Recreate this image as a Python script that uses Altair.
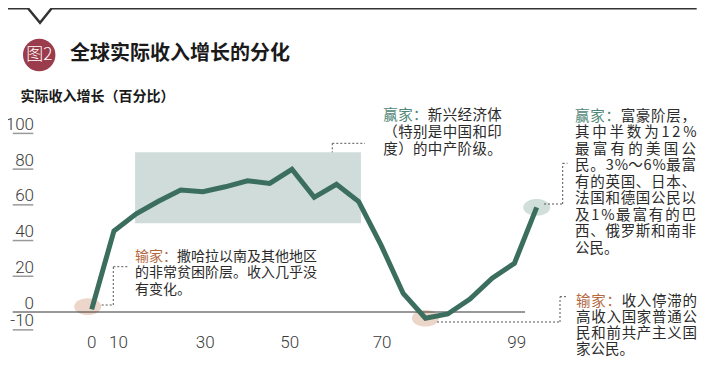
import math
import altair as alt
import pandas as pd

FONT_CJK = "Noto Sans CJK SC"
FONT_NUM = "Roboto"

# ---------------- data ----------------
pct_index = list(range(21))
income_growth = [1.5, 45.4, 55, 62, 68.3, 67.4, 70.1, 73.5, 72, 79.9, 64.2,
                 71.5, 61.8, 37.6, 10.4, -3.5, -1.1, 7.2, 18.9, 27.3, 58.6]
x_tick_pos = [0, 1.2, 5.1, 8.9, 13.05, 19.1]
x_tick_labels = ["0", "10", "30", "50", "70", "99"]
y_tick_vals = [100, 80, 60, 40, 20, 0, -10]
y_tick_labels = ["100", "80", "60", "40", "20", "0", "-10"]
band_x = [1.95, 12.1]
band_y = [49.7, 89.4]
mark_x = [-0.18, 15, 20]
mark_y = [3.0, -3.5, 58.6]
mark_colors = ["#ecd6c9", "#ecd6c9", "#d0dfda"]

title = "全球实际收入增长的分化"
badge = "图2"
subtitle = "实际收入增长（百分比）"

GREEN_T = "#4f8676"
BROWN_T = "#b4683f"
TXT = "#2b2b2b"

# annotation blocks: (x0, y0, line height, font size, width or None, lines)
blocks = [
    (135, 256.5, 16.5, 14, None, [
        [("输家：", BROWN_T), ("撒哈拉以南及其他地区", TXT)],
        [("的非常贫困阶层。收入几乎没", TXT)],
        [("有变化。", TXT)],
    ], [False, False, False]),
    (383.3, 116, 16.8, 14.5, 118.5, [
        [("赢家：", GREEN_T), ("新兴经济体", TXT)],
        [("（特别是中国和印", TXT)],
        [("度）的中产阶级。", TXT)],
    ], [True, True, True]),
    (575, 116.5, 16.5, 14.5, 121, [
        [("赢家：", GREEN_T), ("富豪阶层，", TXT)],
        [("其中半数为12%", TXT)],
        [("最富有的美国公", TXT)],
        [("民。3%～6%最富", TXT)],
        [("有的英国、日本、", TXT)],
        [("法国和德国公民以", TXT)],
        [("及1%最富有的巴", TXT)],
        [("西、俄罗斯和南非", TXT)],
        [("公民。", TXT)],
    ], [True] * 8 + [False]),
    (576, 302, 16, 14.5, 121, [
        [("输家：", BROWN_T), ("收入停滞的", TXT)],
        [("高收入国家普通公", TXT)],
        [("民和前共产主义国", TXT)],
        [("家公民。", TXT)],
    ], [True, True, True, False]),
]

# ---------------- layout helpers (page pixels -> data units) ----------------
W, H = 691, 351
X0, STEP = 91.7, 22.25
Y0, PPU = 312.0, 1.786


def xd(px):
    return (px - X0) / STEP


def yd(py):
    return (Y0 - py) / PPU


xs = alt.Scale(domain=[xd(8), xd(8 + W)], nice=False, zero=False)
ys = alt.Scale(domain=[yd(8 + H), yd(8)], nice=False, zero=False)


def XQ(f):
    return alt.X(f, type="quantitative", scale=xs, axis=None)


def YQ(f):
    return alt.Y(f, type="quantitative", scale=ys, axis=None)


def cw(c, fs):
    if c in "0123456789":
        return 0.56 * fs
    if c == "%":
        return 0.88 * fs
    if ord(c) < 128:
        return 0.5 * fs
    return fs


rows = []
for x0, y0, lh, fs, width, lines, just in blocks:
    for li, line in enumerate(lines):
        chars = [(c, col) for seg, col in line for c in seg]
        widths = [cw(c, fs) for c, _ in chars]
        gap = 0.0
        if width is not None and just[li] and len(chars) > 1:
            gap = (width - sum(widths)) / (len(chars) - 1)
        x = x0
        for (c, col), w in zip(chars, widths):
            rows.append({"ax": xd(x), "ay": yd(y0 + li * lh), "ch": c,
                         "col": col, "fs": fs})
            x += w + gap
chars_df = pd.DataFrame(rows)

# ---------------- layers ----------------
main_df = pd.DataFrame({"p": pct_index, "g": income_growth})

top_pts = [(8, 8.3), (28, 8.3), (40, 22.7), (51.7, 8.3), (696.7, 8.3)]
top_df = pd.DataFrame({"i": range(len(top_pts)),
                       "x": [xd(p[0]) for p in top_pts],
                       "y": [yd(p[1]) for p in top_pts]})
top_line = alt.Chart(top_df).mark_line(color="#333333", strokeWidth=2.5).encode(
    x=XQ("x"), y=YQ("y"), order="i:Q")

badge_df = pd.DataFrame({"x": [xd(39.2)], "y": [yd(55)], "t": [badge]})
badge_circle = alt.Chart(badge_df).mark_circle(
    color="#9b3c4c", opacity=1, size=math.pi * 18.3 ** 2).encode(x=XQ("x"), y=YQ("y"))
badge_text = alt.Chart(badge_df).mark_text(
    color="white", font=FONT_CJK, fontSize=17, fontWeight=300,
    align="center", baseline="middle").encode(x=XQ("x"), y=YQ("y"), text="t:N")

title_df = pd.DataFrame({"x": [xd(70)], "y": [yd(53.5)], "t": [title]})
title_text = alt.Chart(title_df).mark_text(
    color="#1a1a1a", font=FONT_CJK, fontSize=20, fontWeight="bold",
    align="left", baseline="middle").encode(x=XQ("x"), y=YQ("y"), text="t:N")

sub_df = pd.DataFrame({"x": [xd(20.5)], "y": [yd(96.7)], "t": [subtitle]})
sub_text = alt.Chart(sub_df).mark_text(
    color="#1a1a1a", font=FONT_CJK, fontSize=14, fontWeight="bold",
    align="left", baseline="middle").encode(x=XQ("x"), y=YQ("y"), text="t:N")

band_df = pd.DataFrame({"x1": [band_x[0]], "x2": [band_x[1]],
                        "y1": [band_y[0]], "y2": [band_y[1]]})
band = alt.Chart(band_df).mark_rect(color="#cfdcd9", opacity=1).encode(
    x=XQ("x1"), x2="x2", y=YQ("y1"), y2="y2")

ell = [(math.cos(t * math.pi / 18), 0.62 * math.sin(t * math.pi / 18)) for t in range(36)]
ell_path = "M" + " L".join(f"{a:.4f},{b:.4f}" for a, b in ell) + " Z"
hl_df = pd.DataFrame({"x": mark_x, "y": mark_y, "c": mark_colors})
highlights = alt.Chart(hl_df).mark_point(
    shape=ell_path, filled=True, size=27 ** 2, opacity=1, strokeWidth=0).encode(
    x=XQ("x"), y=YQ("y"), color=alt.Color("c:N", scale=None))

zero_df = pd.DataFrame({"x1": [xd(12.7)], "x2": [xd(525)], "y": [0]})
zero_line = alt.Chart(zero_df).mark_rule(color="#333333", strokeWidth=1.2).encode(
    x=XQ("x1"), x2="x2", y=YQ("y"))

yt_df = pd.DataFrame({"v": y_tick_vals, "lab": y_tick_labels,
                      "x1": xd(12.7), "x2": xd(33.3)})
ytick_rules = alt.Chart(yt_df).transform_filter("datum.v != 0").mark_rule(
    color="#9a9a9a", strokeWidth=1.5).encode(x=XQ("x1"), x2="x2", y=YQ("v"))
ytick_text = alt.Chart(yt_df).mark_text(
    color="#3a3a3a", font=FONT_NUM, fontSize=17, fontWeight=300,
    align="right", baseline="alphabetic", dy=-3.5).encode(
    x=alt.value(34 - 8), y=YQ("v"), text="lab:N")

xt_df = pd.DataFrame({"p": x_tick_pos, "lab": x_tick_labels})
xtick_text = alt.Chart(xt_df).mark_text(
    color="#3a3a3a", font=FONT_NUM, fontSize=17, fontWeight=300,
    align="center", baseline="middle").encode(
    x=XQ("p"), y=alt.value(342.7 - 8), text="lab:N")

main_line = alt.Chart(main_df).mark_line(
    color="#3b6e5e", strokeWidth=5, strokeJoin="miter", strokeCap="butt").encode(
    x=XQ("p"), y=YQ("g"))

segs = [
    (101.7, 305, 113.3, 305), (113.3, 305, 113.3, 266.7), (113.3, 266.7, 128.3, 266.7),
    (332.3, 143.3, 365, 143.3), (332.3, 143.3, 332.3, 152.3),
    (544, 204, 562.7, 204), (562.7, 204, 562.7, 163.3), (562.7, 163.3, 567.5, 163.3),
    (437, 322, 560, 322), (560, 322, 560, 296.7), (560, 296.7, 567, 296.7),
]
seg_df = pd.DataFrame({"x1": [xd(s[0]) for s in segs], "y1": [yd(s[1]) for s in segs],
                       "x2": [xd(s[2]) for s in segs], "y2": [yd(s[3]) for s in segs]})
leaders = alt.Chart(seg_df).mark_rule(
    color="#555555", strokeWidth=1, strokeDash=[2, 2]).encode(
    x=XQ("x1"), x2="x2", y=YQ("y1"), y2="y2")

notes = alt.Chart(chars_df).mark_text(
    font=FONT_CJK, align="left", baseline="middle").encode(
    x=XQ("ax"), y=YQ("ay"), text="ch:N",
    color=alt.Color("col:N", scale=None), size=alt.Size("fs:Q", scale=None))

chart = alt.layer(
    top_line, badge_circle, badge_text, title_text, sub_text,
    band, highlights, zero_line, ytick_rules, ytick_text, xtick_text,
    leaders, main_line, notes,
).properties(
    width=W, height=H, padding=0,
    autosize=alt.AutoSizeParams(type="none"),
    background="white",
).configure_view(strokeWidth=0)

chart.save("out.html", embed_options={"renderer": "svg", "actions": False})
